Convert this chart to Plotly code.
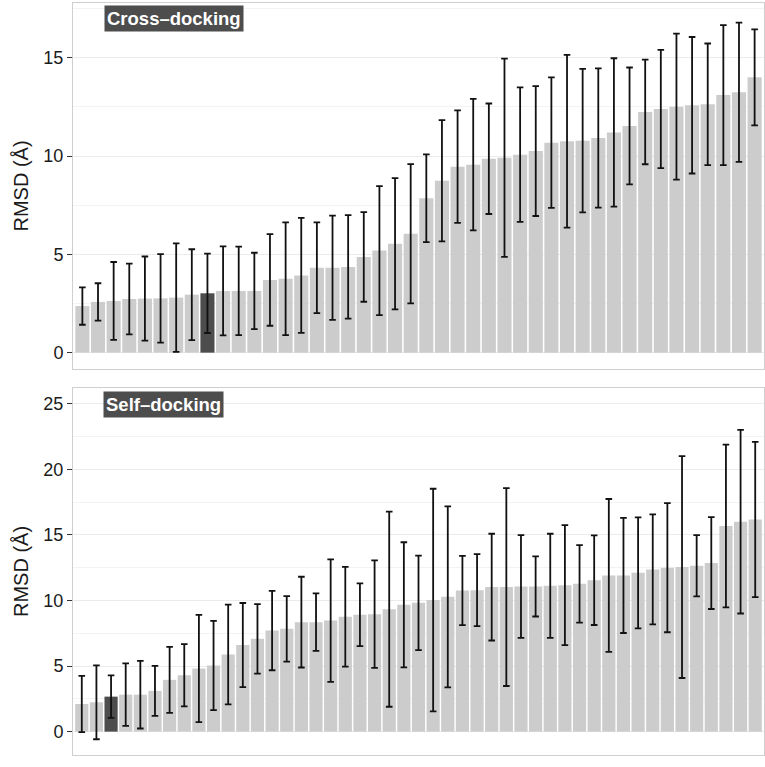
import plotly.graph_objects as go

# Cross-docking panel (top)
cross_mean = [2.37, 2.58, 2.63, 2.73, 2.75, 2.76, 2.80, 2.95, 3.02, 3.14, 3.14, 3.14,
              3.70, 3.76, 3.93, 4.32, 4.32, 4.36, 4.87, 5.19, 5.54, 6.05, 7.85, 8.74,
              9.46, 9.56, 9.86, 9.91, 10.07, 10.25, 10.68, 10.75, 10.78, 10.92, 11.20,
              11.53, 12.24, 12.39, 12.51, 12.58, 12.63, 13.10, 13.24, 14.00]
cross_sd = [0.95, 0.95, 1.98, 1.80, 2.14, 2.25, 2.76, 2.31, 2.02, 2.26, 2.25, 1.94,
            2.33, 2.87, 2.92, 2.31, 2.65, 2.63, 2.28, 3.28, 3.34, 3.54, 2.23, 3.08,
            2.86, 3.34, 2.81, 5.04, 3.42, 3.30, 3.32, 4.39, 3.65, 3.54, 3.77,
            2.97, 2.66, 3.01, 3.71, 3.47, 3.09, 3.56, 3.54, 2.44]
cross_highlight = 8

# Self-docking panel (bottom)
self_mean = [2.11, 2.24, 2.67, 2.82, 2.82, 3.11, 3.95, 4.30, 4.81, 5.04, 5.88, 6.60,
             7.08, 7.71, 7.84, 8.35, 8.35, 8.47, 8.76, 8.91, 8.96, 9.34, 9.67, 9.82,
             10.03, 10.28, 10.76, 10.79, 11.02, 11.02, 11.07, 11.07, 11.12, 11.17,
             11.27, 11.55, 11.91, 11.91, 12.11, 12.37, 12.50, 12.55, 12.65, 12.85,
             15.68, 16.01, 16.18]
self_sd = [2.14, 2.82, 1.62, 2.38, 2.58, 1.90, 2.52, 2.37, 4.09, 3.40, 3.80, 3.21,
           2.65, 3.03, 2.50, 3.46, 2.19, 4.67, 3.80, 2.39, 4.10, 7.44, 4.77, 3.60,
           8.49, 6.90, 2.64, 2.74, 4.07, 7.54, 3.92, 2.29, 3.97, 4.58,
           2.95, 3.42, 5.83, 4.39, 4.23, 4.19, 4.92, 8.46, 2.34, 3.50,
           6.20, 7.00, 5.92]
self_highlight = 2

panel_titles = ["Cross–docking", "Self–docking"]
y_title = "RMSD (Å)"
cross_ticks = [0, 5, 10, 15]
self_ticks = [0, 5, 10, 15, 20, 25]

LIGHT = "#cccccc"
DARK = "#4d4d4d"
FONT = "Liberation Sans, Arial, sans-serif"


def colors(n, hi):
    return [DARK if i == hi else LIGHT for i in range(n)]


fig = go.Figure()
fig.add_trace(go.Bar(
    x=list(range(len(cross_mean))), y=cross_mean,
    marker=dict(color=colors(len(cross_mean), cross_highlight), line=dict(width=0)),
    error_y=dict(type="data", array=cross_sd, visible=True, color="#111111",
                 thickness=1.8, width=3.3),
    xaxis="x", yaxis="y", showlegend=False, hoverinfo="y"))
fig.add_trace(go.Bar(
    x=list(range(len(self_mean))), y=self_mean,
    marker=dict(color=colors(len(self_mean), self_highlight), line=dict(width=0)),
    error_y=dict(type="data", array=self_sd, visible=True, color="#111111",
                 thickness=1.8, width=3.3),
    xaxis="x2", yaxis="y2", showlegend=False, hoverinfo="y"))

common_x = dict(showticklabels=False, ticks="", showgrid=False, zeroline=False,
                showline=True, mirror=True, linecolor="#cfcfcf", linewidth=1)
common_y = dict(showgrid=True, gridcolor="#ebebeb", gridwidth=1, zeroline=False,
                showline=True, mirror=True, linecolor="#cfcfcf", linewidth=1,
                ticks="outside", ticklen=5, tickcolor="#333333", tickwidth=1,
                tickfont=dict(family=FONT, size=18, color="#1a1a1a"),
                title=dict(text=y_title, font=dict(family=FONT, size=20, color="#1a1a1a"),
                           standoff=9))

fig.update_layout(
    width=765, height=767,
    margin=dict(l=73, r=1, t=3, b=12),
    paper_bgcolor="white", plot_bgcolor="white",
    bargap=0.1,
    xaxis=dict(domain=[0, 1], anchor="y", range=[-0.6, len(cross_mean) - 0.4], **common_x),
    yaxis=dict(domain=[0.5133, 1], anchor="x", range=[-0.83, 17.78],
               tickvals=cross_ticks, **common_y,
               minor=dict(showgrid=True, gridcolor="#f3f3f3", tickvals=[2.5, 7.5, 12.5, 17.5])),
    xaxis2=dict(domain=[0, 1], anchor="y2", range=[-0.6, len(self_mean) - 0.4], **common_x),
    yaxis2=dict(domain=[0, 0.488], anchor="x2", range=[-1.78, 26.2],
                tickvals=self_ticks, **common_y,
                minor=dict(showgrid=True, gridcolor="#f3f3f3",
                           tickvals=[2.5, 7.5, 12.5, 17.5, 22.5])),
    annotations=[
        dict(text="<b>" + panel_titles[0] + "</b>", xref="paper", yref="paper",
             x=(104 - 73) / 691, y=(755 - 18.5) / 752, xanchor="left", yanchor="middle",
             showarrow=False, bgcolor=DARK, borderpad=2,
             font=dict(family=FONT, size=18.5, color="white")),
        dict(text="<b>" + panel_titles[1] + "</b>", xref="paper", yref="paper",
             x=(103 - 73) / 691, y=(755 - 404) / 752, xanchor="left", yanchor="middle",
             showarrow=False, bgcolor=DARK, borderpad=2,
             font=dict(family=FONT, size=18.5, color="white")),
    ],
)

fig.write_html("out.html", config={"displayModeBar": False},
               post_script="document.body.style.margin='0';")
